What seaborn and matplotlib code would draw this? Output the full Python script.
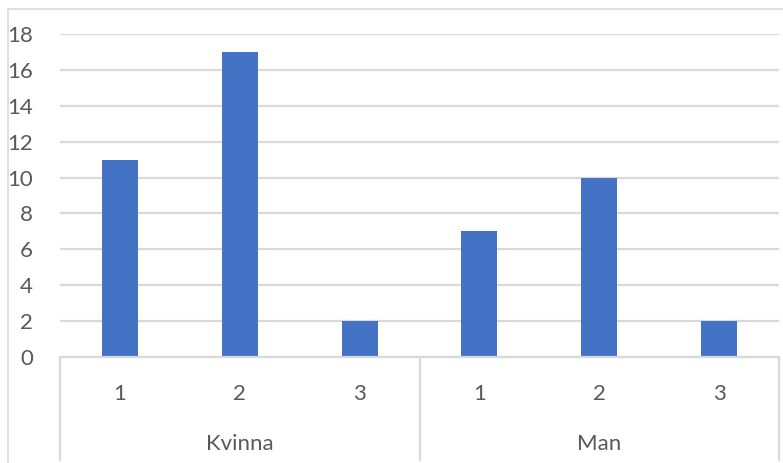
import matplotlib
matplotlib.use("Agg")
import matplotlib.pyplot as plt
from matplotlib.lines import Line2D
import matplotlib.transforms as mtransforms
import seaborn as sns
import pandas as pd

# Data: counts per group and level
groups = ["Kvinna", "Kvinna", "Kvinna", "Man", "Man", "Man"]
levels = ["1", "2", "3", "1", "2", "3"]
counts = [11, 17, 2, 7, 10, 2]
y_ticks = [0, 2, 4, 6, 8, 10, 12, 14, 16, 18]

df = pd.DataFrame({"group": groups, "level": levels, "count": counts})
df["key"] = df["group"] + "|" + df["level"]

sns.set_theme(style="white")
plt.rcParams["font.family"] = ["Lato", "DejaVu Sans"]

W, H = 783, 463
fig = plt.figure(figsize=(W / 100, H / 100), dpi=100)
left, right, top, bottom = 60, 779, 34, 357
ax = fig.add_axes([left / W, 1 - bottom / H, (right - left) / W, (bottom - top) / H])

bar_color = "#4472C4"
grid_color = "#D9D9D9"
text_color = "#595959"
fs = 16

sns.barplot(data=df, x="key", y="count", color=bar_color, width=0.3,
            saturation=1, ax=ax, edgecolor="none")

ax.set_xlim(-0.5, len(df) - 0.5)
ax.set_ylim(0, 18)
ax.set_yticks(y_ticks)
ax.set_yticklabels([str(t) for t in y_ticks])
ax.yaxis.grid(True, color=grid_color, linewidth=1.6)
ax.set_axisbelow(True)
for s in ["top", "right", "left"]:
    ax.spines[s].set_visible(False)
ax.spines["bottom"].set_color(grid_color)
ax.spines["bottom"].set_linewidth(1.6)
ax.set_xlabel("")
ax.set_ylabel("")
ax.tick_params(axis="y", length=0, pad=19.5, labelsize=fs, labelcolor=text_color)
ax.set_xticks(range(len(df)))
ax.set_xticklabels([])
ax.tick_params(axis="x", length=0)

# Multi-level category labels
trans = mtransforms.blended_transform_factory(ax.transData, fig.transFigure)
for i, lv in enumerate(levels):
    ax.text(i, 1 - 394 / H, lv, transform=trans, ha="center", va="center",
            fontsize=fs, color=text_color, clip_on=False)
group_names = []
for g in groups:
    if g not in group_names:
        group_names.append(g)
for g in group_names:
    idx = [i for i, gg in enumerate(groups) if gg == g]
    ax.text((idx[0] + idx[-1]) / 2, 1 - 444 / H, g, transform=trans,
            ha="center", va="center", fontsize=fs, color=text_color, clip_on=False)
# separators between groups
seps = [-0.5] + [i + 0.5 for i in range(len(groups) - 1) if groups[i] != groups[i + 1]] + [len(groups) - 0.5]
for sx in seps:
    ax.add_line(Line2D([sx, sx], [1 - bottom / H, 1 - 460 / H], transform=trans,
                       color=grid_color, linewidth=1.6, clip_on=False))

# chart frame
fig.add_artist(Line2D([8 / W, 1], [1 - 9 / H, 1 - 9 / H], transform=fig.transFigure,
                      color=grid_color, linewidth=1.2))
fig.add_artist(Line2D([8 / W, 8 / W], [0, 1 - 9 / H], transform=fig.transFigure,
                      color=grid_color, linewidth=1.2))

fig.savefig("out.png", dpi=100)
